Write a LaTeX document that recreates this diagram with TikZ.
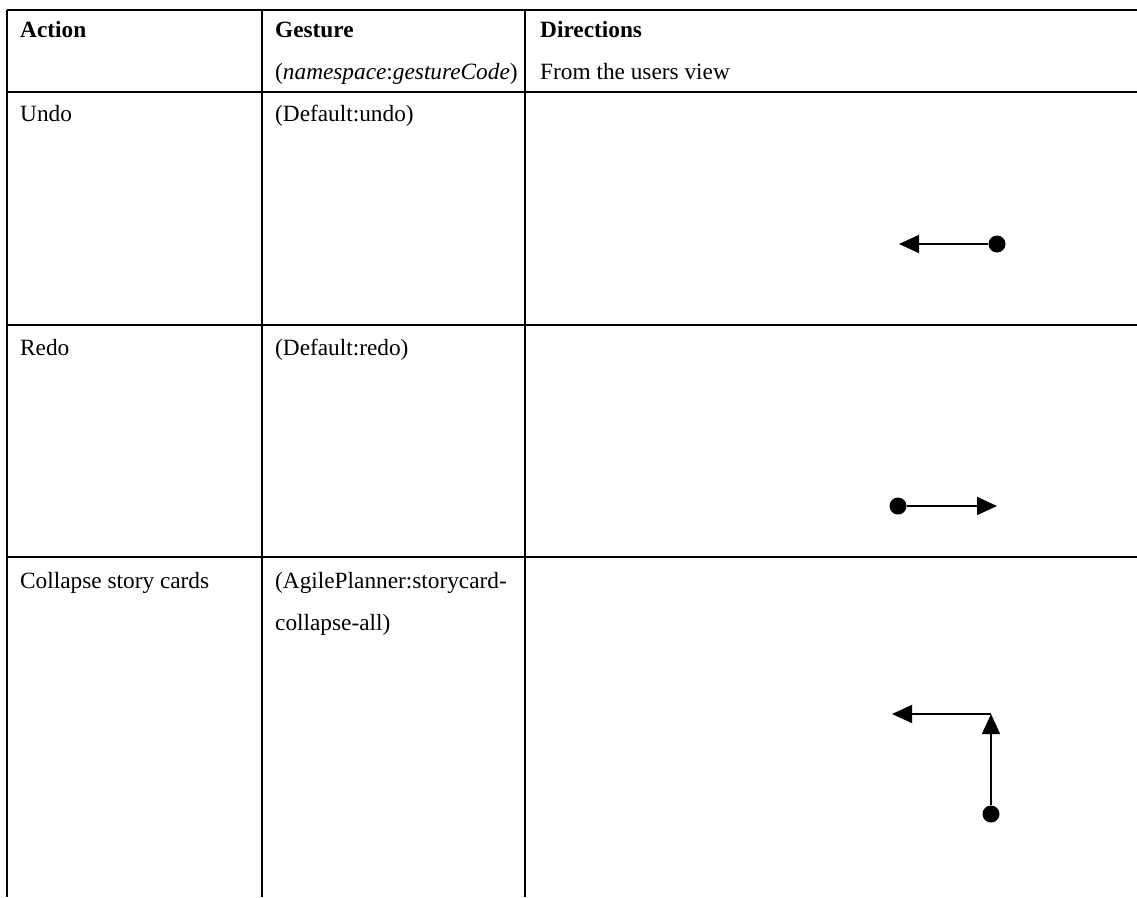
\documentclass[tikz,border=0pt]{standalone}
\usepackage{fontspec}
\setmainfont{Liberation Serif}
\usetikzlibrary{arrows.meta}
\begin{document}
\begin{tikzpicture}[x=1pt,y=-1pt,
  rule/.style={line width=1.8pt},
  cell/.style={anchor=base west,inner sep=0pt,font=\fontsize{23.3}{28}\selectfont},
  head/.style={cell,font=\fontsize{23.3}{28}\selectfont\bfseries},
  dot/.style={circle,fill=black,inner sep=0pt,minimum size=17pt},
  gest/.style={line width=1.5pt,-{Triangle[length=20pt,width=18pt]}}]
\useasboundingbox (0,0) rectangle (1137,897);
% table rules
\draw[rule] (7,10) -- (1137,10);
\draw[rule] (7,92) -- (1137,92);
\draw[rule] (7,325) -- (1137,325);
\draw[rule] (7,557) -- (1137,557);
\draw[rule] (7,10) -- (7,897);
\draw[rule] (262,10) -- (262,897);
\draw[rule] (525,10) -- (525,897);
% header
\node[head] (hA) at (20,37) {Action};
\node[head] (hG) at (275,37) {Gesture};
\node[head] (hD) at (540,37) {Directions};
\node[cell] (hG2) at (275,79) {(\textit{namespace}:\textit{gestureCode})};
\node[cell] (hD2) at (540,79) {From the users view};
% rows
\node[cell] (a1) at (20,121) {Undo};
\node[cell] (g1) at (275,121) {(Default:undo)};
\node[cell] (a2) at (20,355) {Redo};
\node[cell] (g2) at (275,355) {(Default:redo)};
\node[cell] (a3) at (20,588) {Collapse story cards};
\node[cell] (g3) at (275,588) {(AgilePlanner:storycard-};
\node[cell] (g3b) at (275,630) {collapse-all)};
% gestures
\node[dot] (u0) at (997,244) {};
\coordinate (u1) at (899,244);
\draw[gest] (u0) -- (u1);
\node[dot] (r0) at (898,506) {};
\coordinate (r1) at (997,506);
\draw[gest] (r0) -- (r1);
\node[dot] (c0) at (991,814) {};
\coordinate (c1) at (991,714);
\coordinate (c2) at (892,714);
\draw[gest] (c0) -- (c1);
\draw[gest] (c1) -- (c2);
\end{tikzpicture}
\end{document}
